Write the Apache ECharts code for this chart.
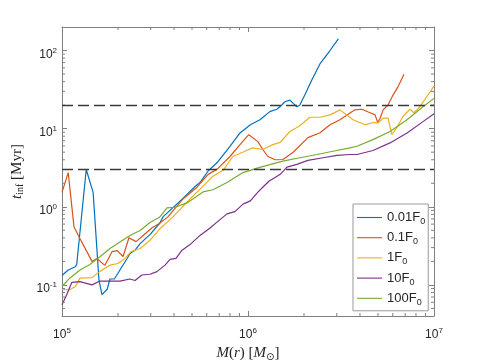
<!DOCTYPE html>
<html>
<head>
<meta charset="utf-8">
<script src="https://cdn.jsdelivr.net/npm/echarts@6/dist/echarts.min.js"></script>
<style>
html, body { margin: 0; padding: 0; background: #fff; }
#chart { width: 480px; height: 360px; }
</style>
</head>
<body>
<div id="chart"></div>
<script>
// values: mass M(r) in M_sun, t_inf in Myr
var names = ['0.01F0', '0.1F0', '1F0', '10F0', '100F0'];
var colors = ['#0072BD', '#D95319', '#EDB120', '#7E2F8E', '#77AC30'];

var m001 = [1.00e5, 1.08e5, 1.18e5, 1.20e5, 1.35e5, 1.47e5, 1.58e5, 1.64e5, 1.75e5, 1.81e5, 1.91e5, 2.00e5, 2.10e5, 2.24e5, 2.32e5, 2.47e5, 2.63e5, 2.97e5, 3.36e5, 3.49e5, 4.47e5, 5.19e5, 5.52e5, 6.10e5, 6.81e5, 8.00e5, 9.06e5, 1.03e6, 1.16e6, 1.31e6, 1.43e6, 1.52e6, 1.58e6, 1.68e6, 1.75e6, 1.83e6, 1.90e6, 2.02e6, 2.20e6, 2.44e6, 2.76e6, 3.06e6];
var t001 = [0.132, 0.155, 0.171, 0.183, 3.0, 1.53, 0.116, 0.075, 0.088, 0.119, 0.119, 0.141, 0.171, 0.218, 0.252, 0.278, 0.338, 0.44, 0.62, 0.743, 1.28, 1.82, 2.04, 2.87, 3.66, 5.95, 8.8, 11.2, 13.0, 16.5, 17.7, 20.1, 22.1, 23.2, 21.1, 19.1, 20.1, 26.9, 41.7, 67.8, 100, 141];

var m01 = [1.00e5, 1.08e5, 1.16e5, 1.25e5, 1.45e5, 1.54e5, 1.70e5, 1.86e5, 1.98e5, 2.13e5, 2.29e5, 2.50e5, 2.72e5, 3.05e5, 3.32e5, 3.71e5, 4.47e5, 5.32e5, 6.10e5, 6.81e5, 8.00e5, 9.06e5, 1.01e6, 1.13e6, 1.20e6, 1.28e6, 1.40e6, 1.54e6, 1.75e6, 2.10e6, 2.44e6, 2.76e6, 3.12e6, 3.76e6, 4.09e6, 4.53e6, 4.82e6, 4.98e6, 5.13e6, 5.33e6, 5.66e6, 6.02e6, 6.40e6, 6.90e6];
var t01 = [1.53, 2.74, 0.554, 0.39, 0.200, 0.218, 0.178, 0.267, 0.275, 0.231, 0.402, 0.358, 0.426, 0.538, 0.605, 0.743, 1.26, 1.78, 2.60, 3.01, 4.40, 6.25, 8.37, 6.82, 5.41, 4.40, 4.00, 4.03, 4.99, 7.67, 8.87, 11.2, 13.0, 17.4, 17.7, 16.0, 15.0, 12.0, 13.6, 17.4, 20.1, 26.9, 34.3, 49.6];

var m1 = [1.00e5, 1.10e5, 1.18e5, 1.25e5, 1.45e5, 1.60e5, 1.81e5, 2.00e5, 2.18e5, 2.35e5, 2.63e5, 2.97e5, 3.36e5, 3.95e5, 4.70e5, 5.52e5, 6.48e5, 7.34e5, 8.30e5, 9.29e5, 1.06e6, 1.20e6, 1.36e6, 1.49e6, 1.68e6, 1.90e6, 2.15e6, 2.44e6, 2.76e6, 3.12e6, 3.67e6, 4.26e6, 4.70e6, 5.00e6, 5.32e6, 5.66e6, 5.93e6, 6.30e6, 6.81e6, 7.43e6, 7.80e6, 8.41e6, 9.13e6, 1.00e7];
var t1 = [0.088, 0.0865, 0.0955, 0.122, 0.124, 0.149, 0.179, 0.188, 0.218, 0.267, 0.292, 0.372, 0.523, 0.743, 1.15, 1.68, 2.46, 2.93, 4.40, 4.95, 5.68, 5.41, 6.25, 6.68, 9.2, 10.9, 14.0, 14.0, 15.0, 17.4, 13.0, 11.2, 12.0, 11.8, 13.6, 13.6, 8.37, 10.2, 14.3, 17.7, 16.0, 19.1, 25.6, 35.0];

var m10 = [1.00e5, 1.06e5, 1.13e5, 1.25e5, 1.45e5, 1.60e5, 1.81e5, 2.05e5, 2.32e5, 2.47e5, 2.69e5, 2.97e5, 3.24e5, 3.58e5, 3.81e5, 4.10e5, 4.42e5, 4.88e5, 5.52e5, 6.25e5, 6.81e5, 7.71e5, 8.51e5, 9.40e5, 1.03e6, 1.13e6, 1.20e6, 1.30e6, 1.35e6, 1.49e6, 1.62e6, 1.83e6, 2.10e6, 2.53e6, 3.01e6, 3.53e6, 3.85e6, 4.70e6, 5.80e6, 7.16e6, 8.73e6, 1.00e7];
var t10 = [0.0558, 0.0747, 0.108, 0.110, 0.100, 0.112, 0.112, 0.112, 0.119, 0.114, 0.134, 0.137, 0.148, 0.179, 0.212, 0.218, 0.278, 0.328, 0.430, 0.534, 0.636, 0.811, 0.867, 1.08, 1.19, 1.54, 1.78, 2.14, 2.25, 2.60, 3.22, 3.49, 3.92, 4.24, 4.54, 4.67, 4.67, 5.25, 6.57, 8.8, 12.3, 15.5];

var m100 = [1.00e5, 1.10e5, 1.25e5, 1.41e5, 1.60e5, 1.81e5, 2.05e5, 2.32e5, 2.63e5, 2.97e5, 3.36e5, 3.67e5, 4.05e5, 4.70e5, 5.73e5, 6.48e5, 7.71e5, 9.40e5, 1.12e6, 1.31e6, 1.54e6, 1.90e6, 2.35e6, 2.86e6, 3.53e6, 3.85e6, 4.70e6, 5.80e6, 7.16e6, 8.73e6, 1.00e7];
var t100 = [0.0955, 0.122, 0.155, 0.183, 0.229, 0.292, 0.355, 0.430, 0.498, 0.63, 0.74, 0.966, 0.986, 1.12, 1.55, 1.65, 2.04, 2.74, 3.13, 3.46, 3.84, 4.24, 4.67, 5.14, 5.68, 5.95, 7.23, 9.2, 13.0, 19.1, 24.4];

var refLevels = [20, 3];     // dashed horizontal lines
var xRange = [1e5, 1e7];
var yRange = [0.04, 200];

var axisColor = '#262626';
var boxColor = '#808080';

function pairs(xs, ys) {
    var out = [];
    for (var i = 0; i < xs.length; i++) out.push([xs[i], ys[i]]);
    return out;
}

// minor tick positions 2..9 x 10^k inside the range
function minorVals(lo, hi) {
    var out = [];
    for (var e = Math.floor(Math.log10(lo)); e <= Math.ceil(Math.log10(hi)); e++) {
        for (var k = 2; k <= 9; k++) {
            var v = k * Math.pow(10, e);
            if (v > lo * 1.0001 && v < hi * 0.9999) out.push(v);
        }
    }
    return out;
}

function powLabel(v) {
    var e = Math.round(Math.log10(v));
    return '10{sup|' + e + '}';
}

var labelRich = {
    sup: { fontSize: 8, fontFamily: 'Liberation Sans', color: axisColor, verticalAlign: 'top', padding: [0, 0, 8, 0] }
};

var myCharts = echarts.init(document.getElementById('chart'));

var lineData = [pairs(m001, t001), pairs(m01, t01), pairs(m1, t1), pairs(m10, t10), pairs(m100, t100)];
var series = [];
lineData.forEach(function (d, i) {
    var s = {
        name: names[i],
        type: 'line',
        data: d,
        symbol: 'none',
        showSymbol: false,
        lineStyle: { width: 1.2, color: colors[i] },
        itemStyle: { color: colors[i] },
        z: 3
    };
    if (i == 0) {
        s.markLine = {
            silent: true,
            symbol: 'none',
            label: { show: false },
            lineStyle: { type: [11, 5], color: '#3a3a3a', width: 1.4 },
            data: refLevels.map(function (v) { return { yAxis: v }; })
        };
    }
    series.push(s);
});

// minor ticks on all four sides
series.push({
    type: 'custom',
    silent: true,
    z: 4,
    data: minorVals(xRange[0], xRange[1]).map(function (v) { return [v, 1]; }),
    renderItem: function (params, api) {
        var cs = params.coordSys;
        var x = api.coord([api.value(0), 1])[0];
        var st = { stroke: boxColor, lineWidth: 1 };
        return {
            type: 'group', children: [
                { type: 'line', shape: { x1: x, y1: cs.y + cs.height, x2: x, y2: cs.y + cs.height - 3 }, style: st },
                { type: 'line', shape: { x1: x, y1: cs.y, x2: x, y2: cs.y + 3 }, style: st }
            ]
        };
    }
});
series.push({
    type: 'custom',
    silent: true,
    z: 4,
    data: minorVals(yRange[0], yRange[1]).map(function (v) { return [1e6, v]; }),
    renderItem: function (params, api) {
        var cs = params.coordSys;
        var y = api.coord([1e6, api.value(1)])[1];
        var st = { stroke: boxColor, lineWidth: 1 };
        return {
            type: 'group', children: [
                { type: 'line', shape: { x1: cs.x, y1: y, x2: cs.x + 3, y2: y }, style: st },
                { type: 'line', shape: { x1: cs.x + cs.width, y1: y, x2: cs.x + cs.width - 3, y2: y }, style: st }
            ]
        };
    }
});

function logAxis(pos, range, showLabel, edgeLabels, extra) {
    var ax = {
        type: 'log',
        logBase: 10,
        position: pos,
        min: range[0],
        max: range[1],
        axisLine: { show: true, lineStyle: { color: boxColor, width: 1 } },
        axisTick: { show: true, inside: true, length: 5, lineStyle: { color: boxColor, width: 1 } },
        splitLine: { show: false },
        axisLabel: {
            show: showLabel,
            showMinLabel: edgeLabels,
            showMaxLabel: edgeLabels,
            formatter: powLabel,
            color: axisColor,
            fontSize: 12,
            fontFamily: 'Liberation Sans',
            margin: 9,
            rich: labelRich
        }
    };
    for (var k in extra) ax[k] = extra[k];
    return ax;
}

var xMain = logAxis('bottom', xRange, true, true, {
    name: '{i|M}({i|r}) [{i|M}{sub|⊙}]',
    nameLocation: 'middle',
    nameGap: 22,
    nameTextStyle: {
        color: axisColor, fontSize: 15, fontFamily: 'Liberation Serif',
        rich: {
            i: { fontStyle: 'italic', fontSize: 15, fontFamily: 'Liberation Serif', color: axisColor },
            sub: { fontSize: 10, fontFamily: 'DejaVu Sans', color: axisColor, verticalAlign: 'bottom', padding: [8, 0, 0, 0] }
        }
    }
});
xMain.axisLabel.margin = 11;

var yMain = logAxis('left', yRange, true, false, {
    name: '{i|t}{sub|inf} [Myr]',
    nameLocation: 'middle',
    nameRotate: 90,
    nameGap: 28,
    nameTextStyle: {
        color: axisColor, fontSize: 15, fontFamily: 'Liberation Serif',
        rich: {
            i: { fontStyle: 'italic', fontSize: 15, fontFamily: 'Liberation Serif', color: axisColor },
            sub: { fontSize: 10, fontFamily: 'Liberation Serif', color: axisColor, verticalAlign: 'bottom', padding: [8, 0, 0, 0] }
        }
    }
});
yMain.axisLabel.margin = 5;
yMain.axisLabel.padding = [8, 0, 0, 0];

var option = {
    animation: false,
    backgroundColor: '#fff',
    grid: { left: 62, right: 46, top: 27, bottom: 44, containLabel: false, outerBoundsMode: 'none' },
    xAxis: [xMain, logAxis('top', xRange, false, false, {})],
    yAxis: [yMain, logAxis('right', yRange, false, false, {})],
    legend: {
        data: names,
        orient: 'vertical',
        left: 353,
        top: 204,
        itemWidth: 25,
        itemHeight: 10,
        itemGap: 5.2,
        padding: [7, 3, 4, 4],
        backgroundColor: '#fff',
        borderColor: '#999',
        borderWidth: 1,
        borderRadius: 0,
        icon: 'path://M0,4 L25,4 L25,5.1 L0,5.1 Z',
        formatter: function (name) {
            return name.replace(/F0$/, 'F{sub|0}');
        },
        textStyle: {
            color: axisColor,
            fontSize: 13,
            fontFamily: 'Liberation Sans',
            rich: {
                sub: { fontSize: 9, fontFamily: 'Liberation Sans', color: axisColor, verticalAlign: 'bottom', padding: [8, 0, 0, 0] }
            }
        }
    },
    series: series
};
myCharts.setOption(option);
</script>
</body>
</html>
